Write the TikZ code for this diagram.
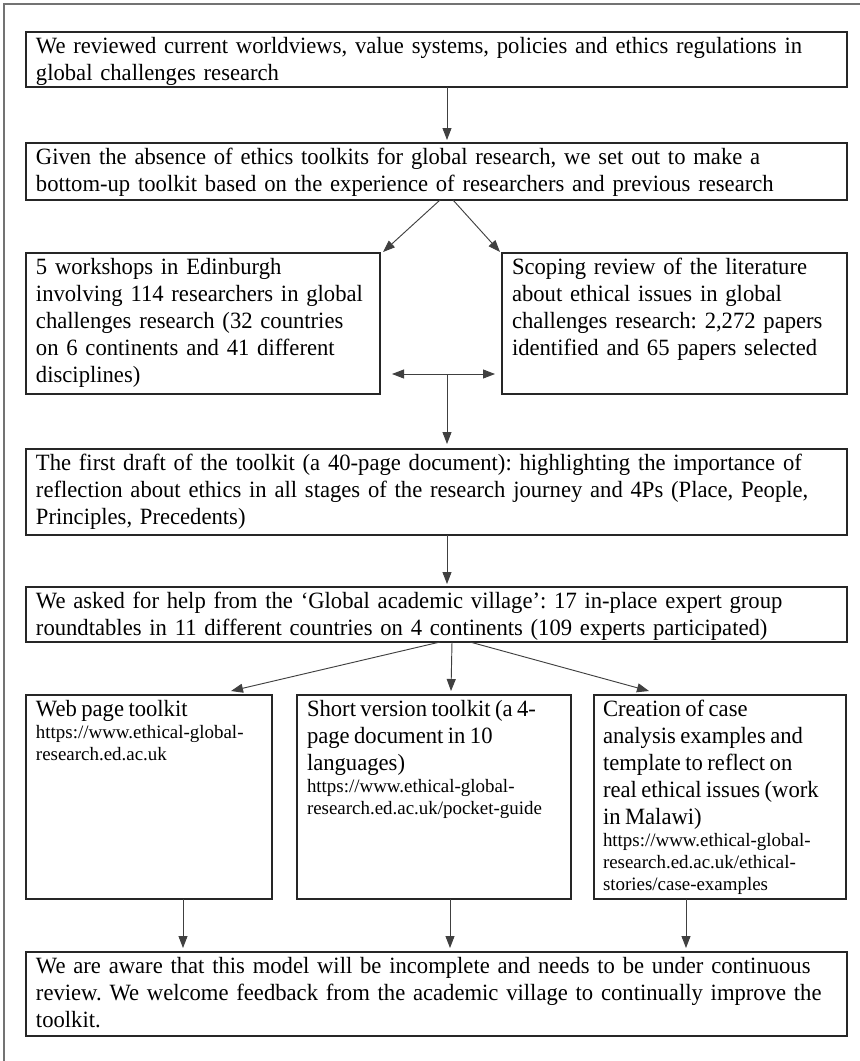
\documentclass[tikz,border=0pt]{standalone}
\usepackage{fontspec}
\setmainfont{Liberation Serif}
\newfontfamily\bigfamily[FakeStretch=0.97]{Liberation Serif}
\usetikzlibrary{positioning}
\usetikzlibrary{arrows.meta}
\usetikzlibrary{calc}
\newdimen\pxu \pxu=0.75pt
\newcommand\bigtext{\bigfamily\fontsize{17.5pt}{20.25pt}\selectfont\frenchspacing}
\newcommand\linktext{\fontsize{14.2pt}{16.5pt}\selectfont\frenchspacing}
\tikzstyle{box} = [rectangle, draw=black!85, line width=1.1\pxu, align=left, inner xsep=10\pxu, inner ysep=0pt, outer sep=0pt]
\tikzstyle{wide} = [box, font=\bigtext, text width=801\pxu, text height=21\pxu]
\tikzstyle{half} = [box, font=\bigtext, text height=21\pxu, text depth=120\pxu]
\tikzstyle{output} = [box, text height=21\pxu, text depth=183\pxu]
\tikzstyle{arrow} = [line width=0.7pt, draw=black!75, -{Triangle[length=9pt, width=6.75pt]}]
\tikzstyle{frame} = [draw=black!55, line width=1.2pt]

\begin{document}
\begin{tikzpicture}[x=\pxu, y=-\pxu]
\useasboundingbox (0,0) rectangle (860,1061);
\draw [frame] (4,1061) -- (4,4) -- (860,4);

\node (review) [wide, text depth=34\pxu, anchor=north west] at (26,32) {We reviewed current worldviews, value systems, policies and ethics regulations in\\global challenges research};
\node (absence) [wide, text depth=36\pxu, below=56\pxu of review.south west, anchor=north west] {Given the absence of ethics toolkits for global research, we set out to make a\\bottom-up toolkit based on the experience of researchers and previous research};
\node (workshops) [half, text width=334\pxu, below=53\pxu of absence.south west, anchor=north west] {5 workshops in Edinburgh\\involving 114 researchers in global\\challenges research (32 countries\\on 6 continents and 41 different\\disciplines)};
\node (scoping) [half, text width=325\pxu, right=122\pxu of workshops] {Scoping review of the literature\\about ethical issues in global\\challenges research: 2,272 papers\\identified and 65 papers selected};
\node (draft) [wide, text depth=65\pxu, below=55\pxu of workshops.south west, anchor=north west] {The first draft of the toolkit (a 40-page document): highlighting the importance of\\reflection about ethics in all stages of the research journey and 4Ps (Place, People,\\Principles, Precedents)};
\node (village) [wide, text depth=34\pxu, below=52\pxu of draft.south west, anchor=north west] {We asked for help from the ‘Global academic village’: 17 in-place expert group\\roundtables in 11 different countries on 4 continents (109 experts participated)};
\node (web) [output, text width=226\pxu, below=53\pxu of village.south west, anchor=north west] {{\bigtext Web page toolkit\par}{\linktext https://www.ethical-global-\\research.ed.ac.uk\par}};
\node (short) [output, text width=254\pxu, right=25\pxu of web] {{\bigtext Short version toolkit (a 4-\\page document in 10\\languages)\par}{\linktext https://www.ethical-global-\\research.ed.ac.uk/pocket-guide\par}};
\node (cases) [output, inner xsep=9\pxu, text width=234\pxu, right=23\pxu of short] {{\bigtext Creation of case\\analysis examples and\\template to reflect on\\real ethical issues (work\\in Malawi)\par}{\linktext https://www.ethical-global-\\research.ed.ac.uk/ethical-\\stories/case-examples\par}};
\node (feedback) [wide, text depth=63\pxu, below=53\pxu of web.south west, anchor=north west] {We are aware that this model will be incomplete and needs to be under continuous\\review. We welcome feedback from the academic village to continually improve the\\toolkit.};

\draw [arrow] ([xshift=10.5\pxu]review.south) -- ([xshift=10.5\pxu, yshift=3\pxu]absence.north);
\draw [arrow] ([xshift=3.5\pxu]absence.south) -- ([xshift=3\pxu, yshift=1\pxu]workshops.north east);
\draw [arrow] ([xshift=16.5\pxu]absence.south) -- ([xshift=-2\pxu, yshift=1\pxu]scoping.north west);
\coordinate (split) at ($(draft.north) + (10.5\pxu, 75\pxu)$);
\draw [arrow, {Triangle[length=9pt, width=6.75pt]}-{Triangle[length=9pt, width=6.75pt]}] ($(split -| workshops.east) + (12\pxu, 0)$) -- ($(split -| scoping.west) + (-7\pxu, 0)$);
\draw [arrow] (split) -- ([xshift=10.5\pxu, yshift=5\pxu]draft.north);
\draw [arrow] ([xshift=10.5\pxu]draft.south) -- ([xshift=10.5\pxu, yshift=3\pxu]village.north);
\draw [arrow] ([xshift=3.5\pxu]village.south) -- ([xshift=-41\pxu, yshift=4\pxu]web.north east);
\draw [arrow] ([xshift=15.5\pxu]village.south) -- ([xshift=17\pxu, yshift=4\pxu]short.north);
\draw [arrow] ([xshift=33.5\pxu]village.south) -- ([xshift=55\pxu, yshift=4\pxu]cases.north west);
\draw [arrow] ([xshift=34\pxu]web.south) -- ([xshift=34\pxu, yshift=4\pxu]web.south |- feedback.north);
\draw [arrow] ([xshift=16\pxu]short.south) -- ([xshift=16\pxu, yshift=4\pxu]short.south |- feedback.north);
\draw [arrow] ([xshift=-34\pxu]cases.south) -- ([xshift=-34\pxu, yshift=4\pxu]cases.south |- feedback.north);
\end{tikzpicture}
\end{document}
